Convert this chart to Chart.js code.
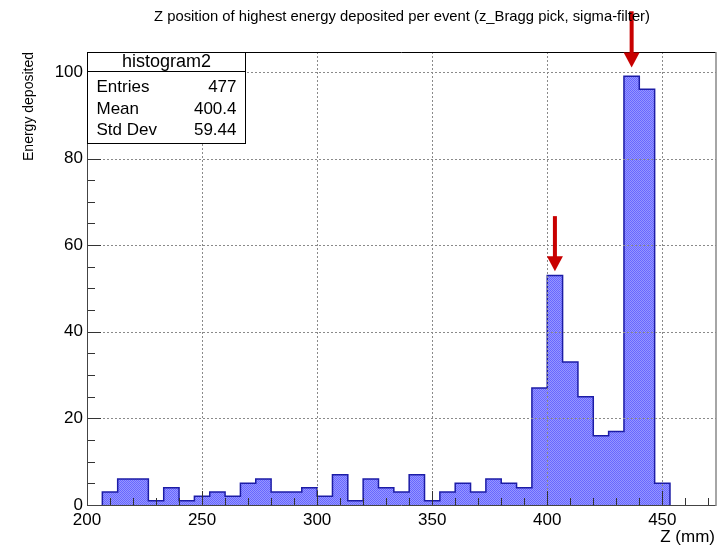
<!DOCTYPE html>
<html lang="en">

<head>
    <meta charset="UTF-8">
    <title>histogram2</title>
    <script src="https://cdn.jsdelivr.net/npm/chart.js"></script>
    <style>
        body {
            margin: 0;
            background: #fff;
        }
    </style>
</head>

<body>
    <canvas id="myChart" width="727" height="545"></canvas>

<script>
    // histogram binning (mm)
    const binStart = 200;
    const binWidth = 20 / 3;
    const counts = [0, 3, 6, 6, 1, 4, 1, 2, 3, 2, 5, 6, 3, 3, 4, 2, 7, 1, 6, 4, 3,
        7, 1, 3, 5, 3, 6, 5, 4, 27, 53, 33, 25, 16, 17, 99, 96, 5, 0, 0, 0];

    // axes
    const xRange = [200, 473.33];
    const yRange = [0, 104.6];
    const xTicks = [200, 250, 300, 350, 400, 450];
    const yTicks = [0, 20, 40, 60, 80, 100];
    const xMinorStep = 10;
    const yMinorStep = 5;

    // stats box
    const statsName = 'histogram2';
    const statsLabels = ['Entries', 'Mean', 'Std Dev'];
    const statsValues = ['477', '400.4', '59.44'];

    // red markers over the two peaks
    const arrowX = [403.33, 436.67];
    const arrowTip = [54, 101];
    const arrowTail = [66.7, 114];

    const titulo = 'Z position of highest energy deposited per event (z_Bragg pick, sigma-filter)';
    const tituloX = 'Z (mm)';
    const tituloY = 'Energy deposited';

    const FONTE = '"Liberation Sans", Arial, sans-serif';

    // step outline of the histogram: each point sits on the right edge of its bin
    let primeiro = counts.findIndex(c => c > 0);
    let ultimo = counts.length - 1;
    while (counts[ultimo] == 0) ultimo--;

    let pontos = [{ x: binStart + primeiro * binWidth, y: 0 }];
    for (let i = primeiro; i <= ultimo; i++) {
        pontos.push({ x: binStart + (i + 1) * binWidth, y: counts[i] });
    }
    pontos.push({ x: binStart + (ultimo + 1) * binWidth, y: 0 });

    // checkered blue fill
    function criarPadrao() {
        const c = document.createElement('canvas');
        c.width = 2;
        c.height = 2;
        const p = c.getContext('2d');
        p.fillStyle = 'rgb(150,150,255)';
        p.fillRect(0, 0, 2, 2);
        p.fillStyle = 'rgb(104,104,255)';
        p.fillRect(0, 0, 1, 1);
        p.fillRect(1, 1, 1, 1);
        return p.createPattern(c, 'repeat');
    }

    function linha(ctx, x1, y1, x2, y2) {
        ctx.beginPath();
        ctx.moveTo(x1, y1);
        ctx.lineTo(x2, y2);
        ctx.stroke();
    }

    const moldura = {
        id: 'moldura',
        afterDatasetsDraw(chart) {
            const { ctx, chartArea: a, scales: { x, y } } = chart;
            ctx.save();

            // dotted grid
            ctx.strokeStyle = '#8a8a8a';
            ctx.lineWidth = 1;
            ctx.setLineDash([2, 2]);
            xTicks.forEach(v => {
                if (v <= xRange[0]) return;
                const px = Math.round(x.getPixelForValue(v)) + 0.5;
                linha(ctx, px, a.top, px, a.bottom);
            });
            yTicks.forEach(v => {
                if (v <= yRange[0]) return;
                const py = Math.round(y.getPixelForValue(v)) + 0.5;
                linha(ctx, a.left, py, a.right, py);
            });
            ctx.setLineDash([]);

            // inward tick marks
            ctx.strokeStyle = '#333';
            for (let v = xRange[0]; v <= xRange[1]; v += xMinorStep) {
                const px = Math.round(x.getPixelForValue(v)) + 0.5;
                const tam = v % 50 == 0 ? 14 : 7;
                linha(ctx, px, a.bottom, px, a.bottom - tam);
            }
            for (let v = yRange[0]; v <= yRange[1]; v += yMinorStep) {
                const py = Math.round(y.getPixelForValue(v)) + 0.5;
                const tam = v % 20 == 0 ? 14 : 8;
                linha(ctx, a.left, py, a.left + tam, py);
            }

            // frame
            ctx.strokeStyle = '#000';
            linha(ctx, a.left, a.top + 0.5, a.right, a.top + 0.5);
            ctx.strokeStyle = '#444';
            linha(ctx, a.left + 0.5, a.top, a.left + 0.5, a.bottom);
            linha(ctx, a.left, a.bottom + 0.5, a.right, a.bottom + 0.5);
            ctx.strokeStyle = '#888';
            ctx.lineWidth = 1.5;
            linha(ctx, a.right, a.top, a.right, a.bottom + 1);

            // arrows
            ctx.fillStyle = '#c80000';
            for (let i = 0; i < arrowX.length; i++) {
                const px = x.getPixelForValue(arrowX[i]);
                const pTip = y.getPixelForValue(arrowTip[i]);
                const pTail = y.getPixelForValue(arrowTail[i]);
                ctx.fillRect(px - 2, pTail, 4, pTip - pTail - 14);
                ctx.beginPath();
                ctx.moveTo(px - 8, pTip - 15);
                ctx.lineTo(px + 8, pTip - 15);
                ctx.lineTo(px, pTip);
                ctx.closePath();
                ctx.fill();
            }

            // stats box
            const bx = a.left + 0.5, by = a.top + 0.5, bw = 158, bh = 91;
            ctx.fillStyle = '#fff';
            ctx.fillRect(bx, by, bw, bh);
            ctx.strokeStyle = '#000';
            ctx.lineWidth = 1;
            ctx.strokeRect(bx, by, bw, bh);
            linha(ctx, bx, by + 19, bx + bw, by + 19);
            ctx.fillStyle = '#000';
            ctx.textBaseline = 'middle';
            ctx.textAlign = 'center';
            ctx.font = '18px ' + FONTE;
            ctx.fillText(statsName, bx + bw / 2, by + 10);
            ctx.font = '17px ' + FONTE;
            statsLabels.forEach((t, i) => {
                const ly = by + 35 + i * 21.5;
                ctx.textAlign = 'left';
                ctx.fillText(t, bx + 9, ly);
                ctx.textAlign = 'right';
                ctx.fillText(statsValues[i], bx + bw - 9, ly);
            });

            // titles
            ctx.textAlign = 'center';
            ctx.font = '14.8px ' + FONTE;
            ctx.fillText(titulo, 402, 17);

            ctx.textAlign = 'right';
            ctx.font = '17px ' + FONTE;
            ctx.fillText(tituloX, a.right - 1, 537);

            ctx.save();
            ctx.translate(29, a.top);
            ctx.rotate(-Math.PI / 2);
            ctx.textAlign = 'right';
            ctx.font = '14px ' + FONTE;
            ctx.fillText(tituloY, 0, 0);
            ctx.restore();

            ctx.restore();
        }
    };

    const ctx = document.getElementById('myChart').getContext('2d');

    const config = {
        type: 'line',
        data: {
            datasets: [{
                data: pontos,
                stepped: 'after',
                fill: 'origin',
                backgroundColor: criarPadrao(),
                borderColor: '#1c1ca6',
                borderWidth: 1.5,
                pointRadius: 0,
                tension: 0
            }]
        },
        options: {
            responsive: false,
            animation: false,
            events: [],
            layout: {
                padding: { top: 52, right: 11, left: 0, bottom: 0 }
            },
            scales: {
                x: {
                    type: 'linear',
                    min: xRange[0],
                    max: xRange[1],
                    grid: { display: false, drawTicks: false, tickLength: 0 },
                    border: { display: false },
                    afterFit: s => { s.height = 40; },
                    afterBuildTicks: s => { s.ticks = xTicks.map(v => ({ value: v })); },
                    ticks: {
                        color: '#000',
                        padding: 5,
                        maxRotation: 0,
                        font: { family: FONTE, size: 17 }
                    }
                },
                y: {
                    min: yRange[0],
                    max: yRange[1],
                    grid: { display: false, drawTicks: false, tickLength: 0 },
                    border: { display: false },
                    afterFit: s => { s.width = 87; },
                    afterBuildTicks: s => { s.ticks = yTicks.map(v => ({ value: v })); },
                    ticks: {
                        color: '#000',
                        padding: 4,
                        font: { family: FONTE, size: 17 }
                    }
                }
            },
            plugins: {
                legend: { display: false },
                tooltip: { enabled: false },
                title: { display: false }
            }
        },
        plugins: [moldura]
    };

    let myChart = new Chart(ctx, config);
</script>
</body>

</html>
